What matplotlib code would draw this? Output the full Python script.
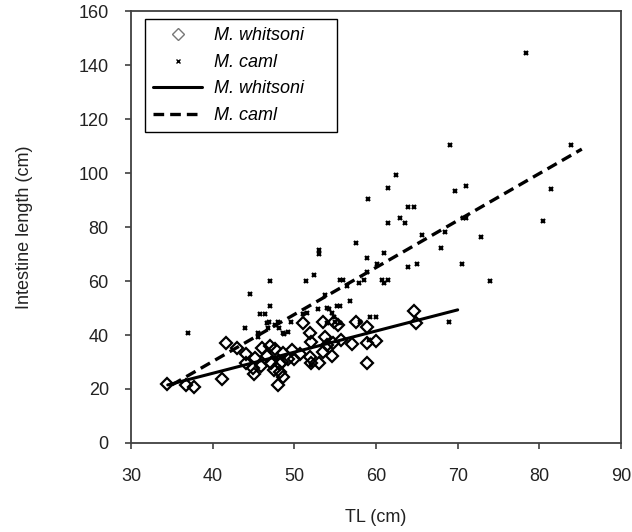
import matplotlib
matplotlib.use("Agg")
import matplotlib.pyplot as plt
import numpy as np

plt.rcParams["font.family"] = ["Liberation Sans", "DejaVu Sans"]

# M. whitsoni: total length (cm) vs intestine length (cm)
whitsoni_tl = [34.4, 36.7, 37.7, 41.1, 41.6, 43.0, 44.1, 44.1, 44.9, 45.0,
               45.2, 45.9, 46.0, 46.7, 47.0, 47.1, 47.5, 47.6, 48.2, 48.2,
               48.6, 48.0, 48.6, 48.5, 49.2, 49.9, 49.7, 50.7, 51.0, 51.9,
               52.0, 51.9, 52.0, 53.0, 53.5, 53.5, 53.8, 54.0, 54.6, 54.7,
               54.8, 55.4, 55.7, 57.0, 57.5, 58.9, 58.9, 58.9, 60.0, 64.6,
               64.9]
whitsoni_il = [21.8, 21.5, 20.6, 23.6, 36.9, 35.2, 33.0, 29.6, 27.7, 25.6,
               31.5, 28.5, 35.0, 32.2, 36.1, 29.5, 27.0, 34.7, 29.3, 26.4,
               24.6, 21.5, 33.2, 30.1, 31.0, 31.0, 34.4, 33.0, 44.6, 40.6,
               37.5, 32.0, 29.6, 29.5, 33.8, 44.9, 39.4, 36.3, 32.2, 36.9,
               44.9, 43.7, 38.1, 36.7, 44.9, 43.1, 36.9, 29.7, 37.8, 49.0,
               44.6]

# M. caml
caml_tl = [37.0, 44.0, 44.6, 45.6, 45.6, 45.8, 46.4, 46.6, 46.8, 46.9,
           47.0, 47.0, 47.6, 48.0, 48.1, 48.6, 49.2, 49.6, 47.8, 51.1,
           51.5, 51.4, 52.4, 52.9, 53.0, 53.0, 53.7, 54.0, 54.2, 54.6,
           54.0, 54.8, 55.0, 55.6, 55.2, 55.6, 56.0, 55.6, 56.5, 56.8,
           57.5, 57.9, 58.5, 58.9, 58.9, 59.0, 58.0, 59.3, 60.0, 59.1,
           60.1, 60.7, 61.0, 61.5, 61.0, 61.5, 61.5, 62.5, 62.9, 63.5,
           63.9, 64.6, 63.9, 65.0, 65.6, 67.9, 68.4, 68.9, 69.0, 69.7,
           70.5, 70.6, 71.0, 71.0, 72.9, 73.9, 78.4, 80.5, 81.4, 83.9,
           52.0, 48.7]
caml_il = [40.9, 42.7, 55.2, 40.6, 39.1, 47.8, 47.8, 44.3, 42.5, 44.9,
           50.7, 60.1, 43.7, 44.9, 42.5, 40.6, 41.0, 44.9, 31.0, 47.8,
           48.2, 60.1, 62.2, 49.6, 71.6, 70.1, 55.0, 50.1, 49.7, 48.0,
           44.3, 46.8, 44.9, 44.6, 50.9, 50.9, 60.4, 60.4, 58.3, 52.6,
           74.2, 59.1, 60.4, 63.2, 68.4, 90.2, 44.7, 46.8, 46.8, 38.1,
           66.2, 60.4, 59.4, 60.4, 70.3, 81.4, 94.3, 99.3, 83.2, 81.4,
           87.3, 87.3, 65.1, 66.2, 77.0, 72.1, 78.3, 44.9, 110.4, 93.3,
           66.2, 83.2, 83.2, 95.3, 76.2, 60.1, 144.6, 82.2, 94.2, 110.4,
           29.0, 40.4]

# linear trend lines: slope, intercept, x range
whitsoni_fit = (0.783, -5.5)
whitsoni_range = [34.5, 70.0]
caml_fit = (1.74, -39.4)
caml_range = [35.0, 85.2]

fig = plt.figure(figsize=(6.32, 5.32), dpi=100)
ax = fig.add_axes([0.2073, 0.1673, 0.7753, 0.812])

ax.plot(whitsoni_tl, whitsoni_il, linestyle="none", marker="D", ms=6.6,
        mfc="none", mec="black", mew=1.6, label="M. whitsoni", zorder=3)
ax.plot(caml_tl, caml_il, linestyle="none", marker="x", ms=3.2,
        mec="black", mew=1.6, label="M. caml", zorder=3)

wx = np.array(whitsoni_range)
ax.plot(wx, whitsoni_fit[0] * wx + whitsoni_fit[1], color="black", lw=2.2,
        solid_capstyle="round", label="M. whitsoni", zorder=4)
cx = np.array(caml_range)
ax.plot(cx, caml_fit[0] * cx + caml_fit[1], color="black", lw=2.4,
        dashes=(3.2, 1.8), label="M. caml", zorder=4)

ax.set_xlim(30, 90)
ax.set_ylim(0, 160)
ax.set_xticks(range(30, 91, 10))
ax.set_yticks(range(0, 161, 20))
ax.tick_params(direction="out", length=4, width=1.2, color="#404040",
               labelsize=13, labelcolor="#222222")
ax.tick_params(axis="y", pad=12)
ax.tick_params(axis="x", pad=14)
for sp in ax.spines.values():
    sp.set_color("#404040")
    sp.set_linewidth(1.3)

ax.set_xlabel("TL (cm)", fontsize=13, labelpad=17, color="#222222")
ax.set_ylabel("Intestine length (cm)", fontsize=13, labelpad=33,
              color="#222222")

# legend box stretched to a fixed width, text left-aligned inside
leg = ax.legend(loc="upper left", bbox_to_anchor=(0.0286, 0.0, 0.392, 0.981),
                mode="expand", borderaxespad=0,
                prop={"style": "italic", "size": 13},
                handlelength=2.7, handletextpad=0.65, labelspacing=0.53,
                fancybox=False, edgecolor="black", framealpha=1,
                borderpad=0.45)
leg.get_frame().set_linewidth(1.0)
leg.legend_handles[0].set_markeredgecolor("#777777")
leg.legend_handles[0].set_markeredgewidth(1.0)
leg.legend_handles[0].set_markersize(6)
leg.legend_handles[1].set_markersize(2.6)
leg.legend_handles[1].set_markeredgewidth(1.0)

fig.savefig("out.png", dpi=100)
